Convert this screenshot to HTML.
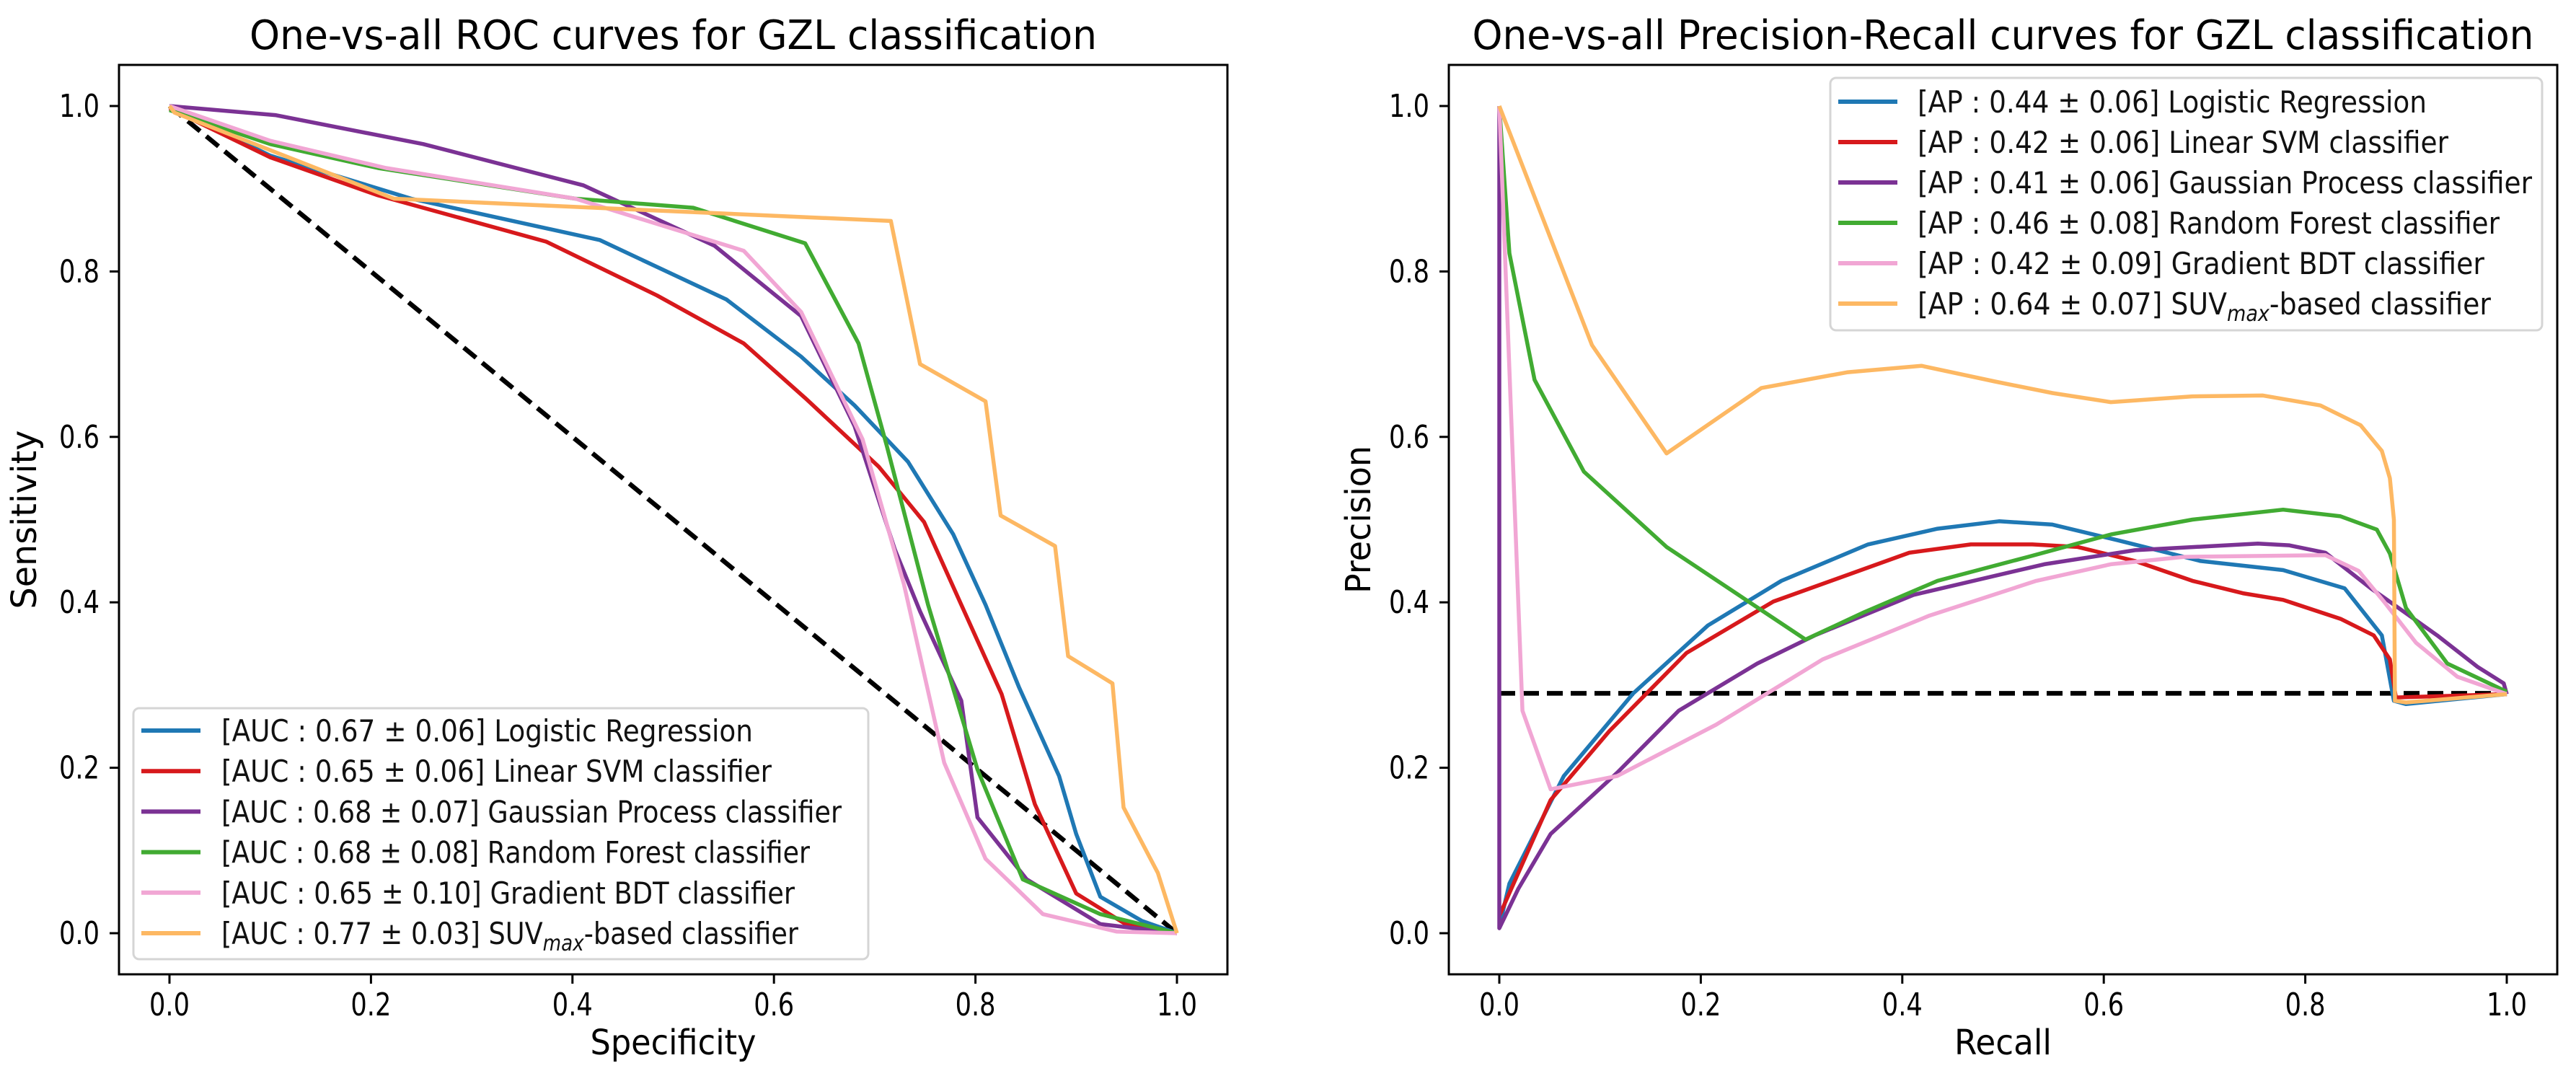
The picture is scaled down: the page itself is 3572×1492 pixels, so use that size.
<!DOCTYPE html>
<html><head><meta charset="utf-8"><style>
html,body{margin:0;padding:0;background:#fff;}
svg{display:block;font-family:"DejaVu Sans","Liberation Sans",sans-serif;}
</style></head><body>
<svg id="fig" width="3572" height="1492" viewBox="0 0 3572 1492" xmlns="http://www.w3.org/2000/svg"></svg>
<script>
const ticks = [0, 0.2, 0.4, 0.6, 0.8, 1.0];
const tickLabels = ["0.0","0.2","0.4","0.6","0.8","1.0"];
const seriesNames = ["Logistic Regression","Linear SVM classifier","Gaussian Process classifier","Random Forest classifier","Gradient BDT classifier","SUV-based classifier"];
const aucLabels = ["[AUC : 0.67 \u00b1 0.06] ","[AUC : 0.65 \u00b1 0.06] ","[AUC : 0.68 \u00b1 0.07] ","[AUC : 0.68 \u00b1 0.08] ","[AUC : 0.65 \u00b1 0.10] ","[AUC : 0.77 \u00b1 0.03] "];
const apLabels = ["[AP : 0.44 \u00b1 0.06] ","[AP : 0.42 \u00b1 0.06] ","[AP : 0.41 \u00b1 0.06] ","[AP : 0.46 \u00b1 0.08] ","[AP : 0.42 \u00b1 0.09] ","[AP : 0.64 \u00b1 0.07] "];
const colors = ["#1f78b4","#d7191c","#7b3294","#41ab32","#f1a6d4","#fdb863"];

const rocBlue = [[0,1],[0.1,0.94],[0.24,0.888],[0.427,0.838],[0.553,0.766],[0.627,0.697],[0.68,0.638],[0.733,0.57],[0.778,0.482],[0.81,0.397],[0.843,0.298],[0.883,0.19],[0.9,0.12],[0.924,0.044],[0.965,0.015],[1,0]];
const rocRed = [[0,0.997],[0.1,0.938],[0.207,0.892],[0.374,0.836],[0.484,0.771],[0.57,0.713],[0.631,0.647],[0.704,0.564],[0.749,0.497],[0.786,0.397],[0.826,0.289],[0.859,0.156],[0.9,0.048],[0.949,0.011],[1,0]];
const rocPurple = [[0,1],[0.105,0.989],[0.252,0.954],[0.411,0.904],[0.541,0.831],[0.627,0.746],[0.68,0.613],[0.72,0.464],[0.745,0.389],[0.786,0.281],[0.802,0.14],[0.851,0.065],[0.924,0.011],[1,0]];
const rocGreen = [[0,0.995],[0.1,0.954],[0.207,0.925],[0.403,0.888],[0.52,0.877],[0.631,0.834],[0.684,0.713],[0.712,0.589],[0.753,0.397],[0.802,0.198],[0.847,0.065],[0.924,0.023],[1,0]];
const rocPink = [[0,1],[0.1,0.958],[0.215,0.925],[0.403,0.888],[0.57,0.825],[0.627,0.751],[0.688,0.597],[0.729,0.422],[0.769,0.206],[0.81,0.09],[0.867,0.023],[0.94,0.002],[1,0]];
const rocOrange = [[0,1],[0.005,0.992],[0.223,0.888],[0.403,0.878],[0.716,0.861],[0.745,0.688],[0.81,0.643],[0.825,0.505],[0.879,0.468],[0.892,0.335],[0.936,0.302],[0.947,0.152],[0.981,0.073],[1,0]];

const prBlue = [[0,0.008],[0.01,0.06],[0.064,0.19],[0.133,0.29],[0.207,0.372],[0.28,0.426],[0.366,0.47],[0.435,0.489],[0.496,0.498],[0.549,0.494],[0.614,0.475],[0.696,0.45],[0.778,0.439],[0.839,0.417],[0.876,0.36],[0.888,0.281],[0.9,0.277],[1,0.289]];
const prRed = [[0,0.021],[0.051,0.161],[0.109,0.244],[0.186,0.339],[0.272,0.401],[0.407,0.46],[0.468,0.47],[0.529,0.47],[0.574,0.467],[0.631,0.45],[0.688,0.426],[0.738,0.411],[0.778,0.403],[0.835,0.38],[0.868,0.36],[0.884,0.331],[0.89,0.285],[1,0.289]];
const prPurple = [[0,1],[0,0.006],[0.019,0.054],[0.051,0.12],[0.117,0.194],[0.178,0.269],[0.256,0.326],[0.313,0.36],[0.411,0.409],[0.541,0.446],[0.631,0.463],[0.753,0.471],[0.784,0.469],[0.82,0.46],[0.865,0.417],[0.931,0.36],[0.971,0.322],[0.997,0.302],[1,0.289]];
const prGreen = [[0,1],[0.01,0.822],[0.035,0.669],[0.084,0.558],[0.166,0.467],[0.304,0.355],[0.362,0.388],[0.435,0.426],[0.525,0.455],[0.607,0.482],[0.688,0.5],[0.778,0.512],[0.835,0.504],[0.871,0.488],[0.884,0.459],[0.9,0.393],[0.941,0.326],[1,0.292]];
const prPink = [[0,1],[0.023,0.269],[0.051,0.174],[0.117,0.19],[0.215,0.252],[0.321,0.331],[0.427,0.384],[0.533,0.426],[0.607,0.446],[0.68,0.455],[0.82,0.457],[0.853,0.438],[0.878,0.401],[0.91,0.351],[0.951,0.31],[1,0.289]];
const prOrange = [[0,1],[0.092,0.711],[0.166,0.58],[0.26,0.659],[0.345,0.678],[0.419,0.686],[0.492,0.667],[0.549,0.653],[0.607,0.642],[0.688,0.649],[0.758,0.65],[0.815,0.638],[0.855,0.614],[0.876,0.583],[0.884,0.55],[0.888,0.5],[0.889,0.281],[0.9,0.279],[1,0.289]];
const prBaseline = 0.29;

const rocSeries = [rocBlue, rocRed, rocPurple, rocGreen, rocPink, rocOrange];
const prSeries = [prBlue, prRed, prPurple, prGreen, prPink, prOrange];

const NS = "http://www.w3.org/2000/svg";
const svg = document.getElementById('fig');
function mk(tag, attrs, parent){const e=document.createElementNS(NS,tag);for(const k in attrs)e.setAttribute(k,attrs[k]);(parent||svg).appendChild(e);return e;}

function panel(cfg){
  const g = mk('g',{});
  
  
  const X = v => cfg.x0 + v*(cfg.x1-cfg.x0);
  const Y = v => cfg.y0 + v*(cfg.y1-cfg.y0);
  const t = mk('text',{x:(cfg.bl+cfg.br)/2,y:68,'text-anchor':'middle','font-size':56,textLength:cfg.titleW,lengthAdjust:'spacingAndGlyphs',fill:'#000'},g);
  t.textContent = cfg.title;
  
  
  ticks.forEach((v,i)=>{
    const l1 = mk('line',{x1:X(v),x2:X(v),y1:cfg.bb,y2:cfg.bb+13,stroke:'#000','stroke-width':3},g);
    
    
    const tx = mk('text',{x:X(v),y:1408,'text-anchor':'middle','font-size':44,textLength:56,lengthAdjust:'spacingAndGlyphs'},g);
    tx.textContent = tickLabels[i];
    
    
    const l2 = mk('line',{x1:cfg.bl-13,x2:cfg.bl,y1:Y(v),y2:Y(v),stroke:'#000','stroke-width':3},g);
    
    
    const ty = mk('text',{x:cfg.bl-27,y:Y(v)+15,'text-anchor':'end','font-size':44,textLength:56,lengthAdjust:'spacingAndGlyphs'},g);
    ty.textContent = tickLabels[i];
    
    
  });
  const xl = mk('text',{x:(cfg.bl+cfg.br)/2,y:1462,'text-anchor':'middle','font-size':48,textLength:cfg.xlW,lengthAdjust:'spacingAndGlyphs'},g);
  xl.textContent = cfg.xlabel;
  
  
  const yc = (cfg.bt+cfg.bb)/2;
  const yl = mk('text',{x:cfg.ylx,y:yc,'text-anchor':'middle','font-size':48,transform:`rotate(-90 ${cfg.ylx} ${yc})`,textLength:cfg.ylW,lengthAdjust:'spacingAndGlyphs'},g);
  yl.textContent = cfg.ylabel;
  
  
  const cid = 'clip-'+cfg.name;
  const cp = mk('clipPath',{id:cid},g);
  mk('rect',{x:cfg.bl,y:cfg.bt,width:cfg.br-cfg.bl,height:cfg.bb-cfg.bt},cp);
  const plot = mk('g',{'clip-path':`url(#${cid})`},g);
  const ref = mk('polyline',{points:cfg.ref.map(p=>X(p[0])+','+Y(p[1])).join(' '),fill:'none',stroke:'#000','stroke-width':6.5,'stroke-dasharray':'22,11'},plot);
  
  
  cfg.series.forEach((s,i)=>{
    const pl = mk('polyline',{points:s.map(p=>X(p[0]).toFixed(1)+','+Y(p[1]).toFixed(1)).join(' '),fill:'none',stroke:colors[i],'stroke-width':5.5,'stroke-linejoin':'round'},plot);
    
    
  });
  const fr = mk('rect',{x:cfg.bl,y:cfg.bt,width:cfg.br-cfg.bl,height:cfg.bb-cfg.bt,fill:'none',stroke:'#000','stroke-width':3},g);
  
  
  const L = cfg.leg;
  const lg = mk('g',{},g);
  
  
  mk('rect',{x:L.x,y:L.y,width:L.w,height:L.h,rx:8,fill:'#fff','fill-opacity':0.85,stroke:'#d5d5d5','stroke-width':3},lg);
  seriesNames.forEach((n,i)=>{
    const cy = L.row0 + i*L.dy;
    const e = mk('g',{},lg);
    
    
    mk('line',{x1:L.hx,x2:L.hx+82,y1:cy,y2:cy,stroke:colors[i],'stroke-width':6},e);
    const tx = mk('text',{x:L.tx,y:cy+15,'font-size':42,fill:'#111'},e);
    if(i===5){
      tx.appendChild(document.createTextNode(cfg.labels[i]+'SUV'));
      const sub = mk('tspan',{'font-size':30,'font-style':'italic',dy:9},tx); sub.textContent='max';
      const rest = mk('tspan',{dy:-9},tx); rest.textContent='-based classifier';
      tx.setAttribute('textLength', L.w5); tx.setAttribute('lengthAdjust','spacingAndGlyphs');
    } else {
      tx.textContent = cfg.labels[i]+n;
      tx.setAttribute('textLength', L.widths[i]); tx.setAttribute('lengthAdjust','spacingAndGlyphs');
    }
  });
}

panel({name:'roc-panel',x0:235,x1:1632,y0:1294,y1:147,bl:165,br:1702,bt:90,bb:1351,
  title:'One-vs-all ROC curves for GZL classification',titleW:1175,xlabel:'Specificity',xlW:230,ylabel:'Sensitivity',ylW:248,ylx:50,
  ref:[[0,1],[1,0]],series:rocSeries,labels:aucLabels,
  leg:{x:185,y:982,w:1019,h:348,row0:1013,dy:56.2,hx:196,tx:307,widths:[737,763,860,816,795],w5:800}});
panel({name:'pr-panel',x0:2079,x1:3476,y0:1294,y1:147,bl:2009,br:3546,bt:90,bb:1351,
  title:'One-vs-all Precision-Recall curves for GZL classification',titleW:1472,xlabel:'Recall',xlW:135,ylabel:'Precision',ylW:205,ylx:1900,
  ref:[[0,prBaseline],[1,prBaseline]],series:prSeries,labels:apLabels,
  leg:{x:2538,y:108,w:987,h:350,row0:141,dy:56,hx:2549,tx:2659,widths:[706,736,852,807,786],w5:795}});
</script>
</body></html>
